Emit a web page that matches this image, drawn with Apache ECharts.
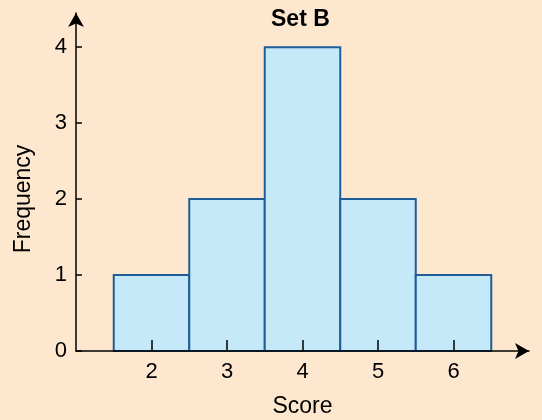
<!DOCTYPE html>
<html>
<head>
<meta charset="utf-8">
<script src="https://cdn.jsdelivr.net/npm/echarts@6/dist/echarts.min.js"></script>
<style>
html,body{margin:0;padding:0;background:#fde8cf;}
#chart{width:542px;height:420px;}
</style>
</head>
<body>
<div id="chart"></div>
<script>
var scores = [2, 3, 4, 5, 6];
var frequencies = [1, 2, 4, 2, 1];
var yTicks = [0, 1, 2, 3, 4];

var FONT = '"Liberation Sans", Arial, Helvetica, sans-serif';
var chart = echarts.init(document.getElementById('chart'), null, {renderer: 'canvas'});

var data = scores.map(function (s, i) { return [s, frequencies[i]]; });

chart.setOption({
  backgroundColor: '#fde8cf',
  animation: false,
  title: {
    text: 'Set B',
    left: 266,
    top: 3,
    textStyle: {fontFamily: FONT, fontSize: 23, fontWeight: 'bold', color: '#000'}
  },
  grid: {left: 76, right: 13, top: 13, bottom: 69, containLabel: false, outerBoundsMode: 'none'},
  xAxis: {
    type: 'value',
    min: 1, max: 7, interval: 1,
    z: 10,
    name: 'Score',
    nameLocation: 'middle',
    nameGap: 44,
    nameTextStyle: {fontFamily: FONT, fontSize: 23, color: '#000'},
    axisLine: {show: true, symbol: ['none', 'arrow'], symbolSize: [12, 14], lineStyle: {color: '#000', width: 1.5}},
    axisTick: {show: true, inside: true, length: 11, customValues: scores, lineStyle: {color: '#000', width: 1.5}},
    axisLabel: {customValues: scores, margin: 10, fontFamily: FONT, fontSize: 22, color: '#000'},
    splitLine: {show: false}
  },
  yAxis: {
    type: 'value',
    min: 0, max: 4.45, interval: 1,
    z: 10,
    name: 'Frequency',
    nameLocation: 'middle',
    nameGap: 41,
    nameRotate: 90,
    nameTextStyle: {fontFamily: FONT, fontSize: 23, color: '#000', padding: [0, 34, 0, 0]},
    axisLine: {show: true, symbol: ['none', 'arrow'], symbolSize: [12, 14], lineStyle: {color: '#000', width: 1.5}},
    axisTick: {show: true, inside: true, length: 6, customValues: yTicks, lineStyle: {color: '#000', width: 1.5}},
    axisLabel: {customValues: yTicks, margin: 9, fontFamily: FONT, fontSize: 22, color: '#000'},
    splitLine: {show: false}
  },
  series: [{
    type: 'custom',
    data: data,
    z: 2,
    renderItem: function (params, api) {
      var x = api.value(0), y = api.value(1);
      var p0 = api.coord([x - 0.5, 0]);
      var p1 = api.coord([x + 0.5, y]);
      return {
        type: 'rect',
        shape: {x: p0[0], y: p1[1], width: p1[0] - p0[0], height: p0[1] - p1[1]},
        style: {fill: '#c6e9f9', stroke: '#1f5d98', lineWidth: 2}
      };
    }
  }]
});
</script>
</body>
</html>
